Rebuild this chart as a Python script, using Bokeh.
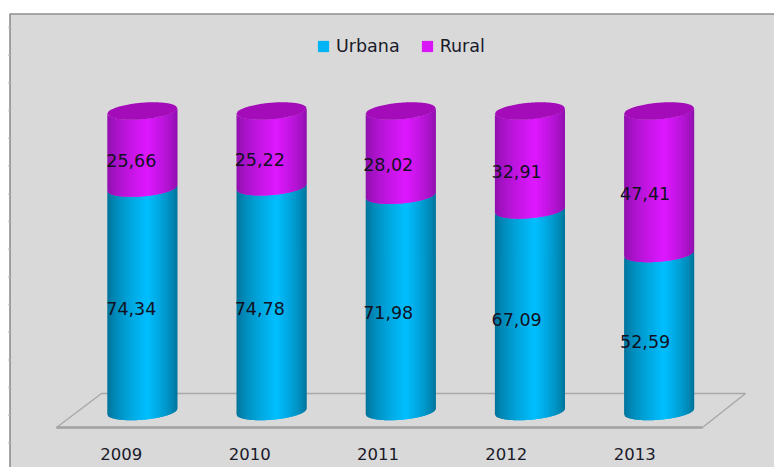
import numpy as np
from bokeh.plotting import figure
from bokeh.models import Legend, LegendItem, ColumnDataSource, Range1d
from bokeh.core.properties import value
from bokeh.embed import file_html
from bokeh.resources import INLINE

years = ["2009", "2010", "2011", "2012", "2013"]
urbana = [74.34, 74.78, 71.98, 67.09, 52.59]
rural = [25.66, 25.22, 28.02, 32.91, 47.41]
urbana_labels = ["74,34", "74,78", "71,98", "67,09", "52,59"]
rural_labels = ["25,66", "25,22", "28,02", "32,91", "47,41"]

W, H = 774, 467
X0, DX = 141.8, 129.2       # reference px of first bar centre, px per category
Y0, DY = 411.0, 3.005       # reference px of value 0, px per percentage point

def sx(px):
    return (px - X0) / DX

def sy(px):
    return (Y0 - px) / DY

p = figure(width=W, height=H, output_backend="svg", toolbar_location=None,
           x_range=Range1d(sx(0), sx(W)), y_range=Range1d(sy(H), sy(0)),
           min_border=0, border_fill_color="white", outline_line_color=None)
p.axis.visible = False
p.grid.visible = False

# panel background and its top and left border
p.quad(left=sx(9.5), right=sx(W), bottom=sy(H), top=sy(13.5),
       fill_color="#d9d9d9", line_color=None)
p.line([sx(9.5), sx(9.5), sx(W)], [sy(H), sy(13.5), sy(13.5)],
       line_color="#8e8e8e", line_width=1.6)

# faint ticks left of the border
tick_px = 27 + 27.7 * np.arange(16)
p.segment(x0=[sx(7.5)] * 16, x1=[sx(9)] * 16, y0=sy(tick_px), y1=sy(tick_px),
          line_color="#cfcfcf", line_width=1.5)

# floor
p.patch([sx(56), sx(101), sx(745), sx(702)], [sy(427), sy(393), sy(393), sy(427)],
        fill_color="#d9d9d9", line_color="#a9a9a9", line_width=1.5)
p.line([sx(56), sx(702)], [sy(427), sy(427)], line_color="#a3a3a3", line_width=2.5)

R = 35 / DX          # bar half width, in categories
H_E = 8.3 / DY       # ellipse half height, in value units
T_E = 2.8 / DY       # ellipse tilt, in value units

def lower(i, c, x):
    u = np.clip((x - i) / R, -1, 1)
    return c + T_E * u - H_E * np.sqrt(1 - u ** 2)

def upper(i, c, x):
    u = np.clip((x - i) / R, -1, 1)
    return c + T_E * u + H_E * np.sqrt(1 - u ** 2)

def shade(dark, bright, t):
    # darkest at the rims, brightest right of the centre
    peak = 0.57
    s = t / peak if t < peak else (1 - t) / (1 - peak)
    s = s ** 0.7
    rgb = [int(round(d + (b - d) * s)) for d, b in zip(dark, bright)]
    return "#%02x%02x%02x" % tuple(rgb)

def cylinder(i, lo, hi, dark, bright):
    n = 70
    edges = i - R + 2 * R * np.arange(n + 1) / n
    xs, ys, cs = [], [], []
    for k in range(n):
        a, b = edges[k], edges[min(k + 2, n)]   # overlap next strip to hide seams
        grid = np.linspace(a, b, 4)
        xs.append(list(grid) + list(grid[::-1]))
        ys.append(list(lower(i, lo, grid)) + list(lower(i, hi, grid[::-1])))
        cs.append(shade(dark, bright, (k + 0.5) / n))
    return xs, ys, cs

BLUE_D, BLUE_B = (0, 112, 150), (0, 191, 255)
MAG_D, MAG_B = (140, 16, 170), (222, 24, 255)
TOP = "#a30cb8"

for i in range(len(years)):
    u, r = urbana[i], rural[i]
    xs, ys, cs = cylinder(i, 0, u, BLUE_D, BLUE_B)
    p.patches(xs, ys, fill_color=cs, line_color=None)
    xs, ys, cs = cylinder(i, u, u + r, MAG_D, MAG_B)
    p.patches(xs, ys, fill_color=cs, line_color=None)
    th = np.linspace(-1, 1, 60)
    gx = i + R * th
    p.patch(list(gx) + list(gx[::-1]),
            list(lower(i, u + r, gx)) + list(upper(i, u + r, gx[::-1])),
            fill_color=TOP, line_color=None)

# data labels
idx = np.arange(len(years))
cum = np.array(urbana) + np.array(rural) / 2
lab_off = -11 - 0.75 * idx
text_font = value("DejaVu Sans")
p.text(x=idx, y=np.array(urbana) / 2, text=urbana_labels, x_offset=lab_off, y_offset=9,
       text_font=text_font, text_font_size="17.5px", text_color="#111122",
       text_align="center", text_baseline="middle")
p.text(x=idx, y=cum, text=rural_labels, x_offset=lab_off, y_offset=11,
       text_font=text_font, text_font_size="17.5px", text_color="#111122",
       text_align="center", text_baseline="middle")

# category labels
p.text(x=idx, y=[sy(453.5)] * 5, text=years, x_offset=-21 - 0.85 * idx,
       text_font=text_font, text_font_size="16.5px", text_color="#1a1a2a",
       text_align="center", text_baseline="middle")

# legend
nan = float("nan")
empty = ColumnDataSource(data=dict(l=[nan], r=[nan], b=[nan], t=[nan]))
r_u = p.quad(left="l", right="r", bottom="b", top="t", source=empty, fill_color="#00b4f5", line_color=None)
r_r = p.quad(left="l", right="r", bottom="b", top="t", source=empty, fill_color="#d916f5", line_color=None)
legend = Legend(items=[LegendItem(label="Urbana", renderers=[r_u]),
                       LegendItem(label="Rural", renderers=[r_r])],
                orientation="horizontal", location=(316, H - 56),
                background_fill_alpha=0, border_line_color=None,
                glyph_width=14, glyph_height=14, label_standoff=6, spacing=20,
                padding=5, margin=0,
                label_text_font="DejaVu Sans", label_text_font_size="17.5px",
                label_text_color="#1a1a2a")
p.add_layout(legend, "center")

open("out.html", "w").write(file_html(p, INLINE))
